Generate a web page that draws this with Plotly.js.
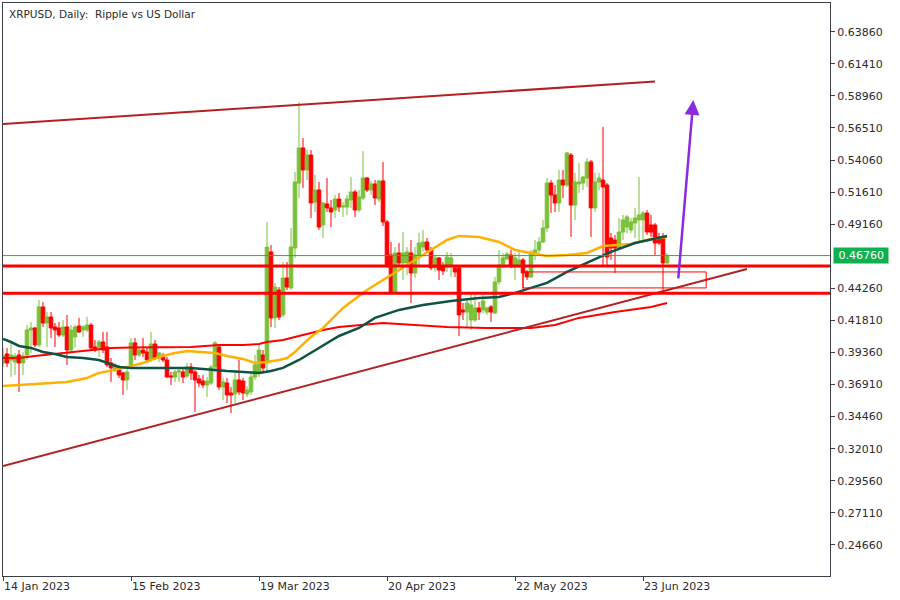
<!DOCTYPE html>
<html><head><meta charset="utf-8">
<script src="https://cdn.plot.ly/plotly-3.0.1.min.js"></script>
<style>html,body{margin:0;padding:0;background:#fff}#chart{width:900px;height:600px}</style>
</head><body><div id="chart"></div><script>
// Daily candles, first date 2023-01-14
const firstDay = [2023, 0, 14];
const open = [0.3856,0.3925,0.3879,0.3863,0.3917,0.3856,0.3917,0.4108,0.4123,0.3994,
0.4284,0.4161,0.4207,0.4131,0.4123,0.4070,0.4131,0.3955,0.4055,0.4138,
0.4108,0.4108,0.4146,0.3978,0.3971,0.4016,0.3978,0.3856,0.3803,0.3818,
0.3780,0.3726,0.3841,0.4009,0.3917,0.3955,0.3940,0.3879,0.4001,0.3894,
0.3902,0.3879,0.3757,0.3749,0.3787,0.3787,0.3757,0.3825,0.3787,0.3734,
0.3718,0.3688,0.3703,0.3825,0.3978,0.3673,0.3703,0.3627,0.3619,0.3726,
0.3718,0.3619,0.3635,0.3749,0.3780,0.3917,0.3856,0.4704,0.4200,0.4413,
0.4223,0.4505,0.4429,0.4734,0.5230,0.5498,0.5330,0.5444,0.5085,0.5177,
0.4910,0.5070,0.5040,0.5024,0.5108,0.5047,0.5047,0.5101,0.5162,0.5024,
0.5116,0.5269,0.5177,0.5223,0.5108,0.5246,0.4933,0.4681,0.4398,0.4696,
0.4620,0.4620,0.4696,0.4543,0.4681,0.4741,0.4780,0.4719,0.4582,0.4658,
0.4597,0.4589,0.4604,0.4582,0.4582,0.4261,0.4245,0.4184,0.4184,0.4276,
0.4261,0.4245,0.4284,0.4238,0.4475,0.4589,0.4650,0.4681,0.4589,0.4597,
0.4643,0.4551,0.4513,0.4681,0.4719,0.4780,0.4887,0.5230,0.5139,0.5078,
0.5253,0.5215,0.5444,0.5062,0.5223,0.5230,0.5269,0.5391,0.5040,0.5238,
0.5253,0.5215,0.4810,0.4795,0.4734,0.4856,0.4894,0.4872,0.4925,0.4948,
0.4948,0.5001,0.4910,0.4910,0.4818,0.4818,0.4620];
const high = [0.3971,0.3971,0.4009,0.3932,0.3955,0.3940,0.4146,0.4169,0.4131,0.4337,
0.4322,0.4245,0.4245,0.4161,0.4169,0.4184,0.4223,0.4146,0.4146,0.4200,
0.4146,0.4207,0.4161,0.4032,0.4032,0.4093,0.4093,0.3894,0.3856,0.3841,
0.3787,0.3825,0.4047,0.4047,0.3971,0.4047,0.3971,0.4093,0.4032,0.3940,
0.3932,0.3902,0.3787,0.3803,0.3818,0.3818,0.3856,0.3856,0.3803,0.3764,
0.3764,0.3749,0.3841,0.4024,0.3986,0.3741,0.3741,0.3673,0.3803,0.3879,
0.3741,0.3680,0.3787,0.3917,0.3994,0.3955,0.4933,0.4757,0.4467,0.4436,
0.4627,0.4627,0.4887,0.5315,0.5849,0.5574,0.5483,0.5483,0.5292,0.5238,
0.5085,0.5269,0.5101,0.5139,0.5154,0.5085,0.5139,0.5276,0.5177,0.5177,
0.5475,0.5276,0.5246,0.5253,0.5253,0.5391,0.4948,0.4780,0.4741,0.4772,
0.4856,0.4741,0.4795,0.4741,0.4849,0.4872,0.4810,0.4741,0.4681,0.4665,
0.4627,0.4704,0.4696,0.4597,0.4589,0.4314,0.4337,0.4391,0.4375,0.4322,
0.4375,0.4284,0.4299,0.4513,0.4719,0.4696,0.4704,0.4719,0.4696,0.4719,
0.4658,0.4566,0.4719,0.4795,0.4818,0.4948,0.5269,0.5253,0.5215,0.5330,
0.5330,0.5467,0.5460,0.5307,0.5383,0.5284,0.5421,0.5406,0.5307,0.5307,
0.5658,0.5230,0.4849,0.4833,0.4963,0.4986,0.4986,0.4963,0.5040,0.5276,
0.5017,0.5024,0.4986,0.4925,0.4849,0.4849,0.4696];
const low = [0.3825,0.3825,0.3749,0.3764,0.3635,0.3764,0.3879,0.3932,0.3978,0.3978,
0.4131,0.3978,0.4047,0.3978,0.4055,0.4055,0.3841,0.3932,0.3971,0.4085,
0.4055,0.4093,0.3955,0.3940,0.3902,0.3932,0.3825,0.3711,0.3787,0.3741,
0.3612,0.3650,0.3825,0.3879,0.3902,0.3902,0.3856,0.3863,0.3879,0.3863,
0.3863,0.3741,0.3688,0.3711,0.3711,0.3703,0.3741,0.3726,0.3482,0.3673,
0.3665,0.3596,0.3688,0.3787,0.3650,0.3573,0.3550,0.3474,0.3550,0.3612,
0.3573,0.3596,0.3612,0.3726,0.3749,0.3787,0.3787,0.4131,0.4123,0.4184,
0.4207,0.4413,0.4413,0.4658,0.5116,0.5192,0.5253,0.4963,0.5009,0.4872,
0.4810,0.5009,0.4894,0.4963,0.5009,0.4971,0.4986,0.5040,0.4971,0.5009,
0.5101,0.5162,0.5139,0.5062,0.5085,0.4902,0.4582,0.4383,0.4383,0.4589,
0.4490,0.4528,0.4314,0.4505,0.4604,0.4704,0.4696,0.4566,0.4551,0.4490,
0.4528,0.4551,0.4513,0.4513,0.4062,0.4184,0.4123,0.4108,0.4169,0.4184,
0.4238,0.4223,0.4169,0.4230,0.4452,0.4582,0.4643,0.4582,0.4490,0.4582,
0.4421,0.4490,0.4505,0.4643,0.4696,0.4772,0.4856,0.5001,0.5009,0.5009,
0.5116,0.5200,0.4818,0.4948,0.5154,0.5177,0.5200,0.4818,0.5009,0.5177,
0.4604,0.4604,0.4643,0.4543,0.4719,0.4795,0.4849,0.4849,0.4810,0.4780,
0.4795,0.4833,0.4818,0.4681,0.4757,0.4391,0.4612];
const close = [0.3909,0.3856,0.3917,0.3909,0.3856,0.3909,0.4108,0.4123,0.3994,0.4284,
0.4161,0.4207,0.4123,0.4108,0.4070,0.4131,0.3955,0.4108,0.4131,0.4093,
0.4131,0.4146,0.3971,0.3955,0.4016,0.3955,0.3841,0.3818,0.3841,0.3764,
0.3726,0.3787,0.4009,0.3917,0.3955,0.3932,0.3879,0.4001,0.3894,0.3932,
0.3879,0.3749,0.3749,0.3787,0.3795,0.3749,0.3825,0.3780,0.3726,0.3703,
0.3688,0.3718,0.3825,0.4009,0.3673,0.3711,0.3612,0.3612,0.3726,0.3635,
0.3627,0.3650,0.3749,0.3841,0.3955,0.3818,0.4741,0.4200,0.4436,0.4207,
0.4505,0.4436,0.4741,0.5238,0.5498,0.5330,0.5444,0.5078,0.5177,0.4894,
0.5078,0.5040,0.5009,0.5108,0.5047,0.5055,0.5108,0.5162,0.5024,0.5124,
0.5269,0.5177,0.5223,0.5116,0.5246,0.4933,0.4604,0.4398,0.4696,0.4620,
0.4696,0.4704,0.4543,0.4681,0.4772,0.4780,0.4719,0.4582,0.4658,0.4566,
0.4559,0.4665,0.4658,0.4551,0.4223,0.4245,0.4314,0.4299,0.4276,0.4245,
0.4330,0.4276,0.4245,0.4475,0.4604,0.4658,0.4688,0.4589,0.4658,0.4643,
0.4543,0.4513,0.4696,0.4719,0.4780,0.4887,0.5230,0.5139,0.5078,0.5253,
0.5215,0.5460,0.5062,0.5238,0.5238,0.5276,0.5391,0.5040,0.5238,0.5269,
0.5200,0.4665,0.4734,0.4734,0.4856,0.4948,0.4971,0.4933,0.4963,0.4986,
0.5001,0.4856,0.4856,0.4772,0.4772,0.4620,0.4676];

// Moving averages
const maOrangeDates = ['2023-01-14','2023-01-23','2023-01-30','2023-02-04','2023-02-07','2023-02-11','2023-02-14','2023-02-18','2023-02-22','2023-02-26','2023-03-01','2023-03-05','2023-03-08','2023-03-11','2023-03-15','2023-03-18','2023-03-21','2023-03-24','2023-03-26','2023-03-28','2023-03-29','2023-04-01','2023-04-04','2023-04-09','2023-04-15','2023-04-19','2023-04-23','2023-04-26','2023-05-01','2023-05-05','2023-05-08','2023-05-13','2023-05-18','2023-05-22','2023-05-26','2023-05-30','2023-06-04','2023-06-09','2023-06-13','2023-06-20','2023-06-25','2023-06-29'];
const maOrange = [0.3680,0.3696,0.3711,0.3741,0.3780,0.3803,0.3825,0.3856,0.3902,0.3932,0.3948,0.3940,0.3932,0.3909,0.3887,0.3856,0.3863,0.3879,0.3894,0.3940,0.3971,0.4055,0.4123,0.4276,0.4413,0.4490,0.4566,0.4620,0.4719,0.4795,0.4826,0.4818,0.4780,0.4719,0.4696,0.4673,0.4681,0.4696,0.4749,0.4765,0.4803,0.4818];
const maGreenDates = ['2023-01-14','2023-01-16','2023-01-18','2023-01-21','2023-01-24','2023-01-27','2023-01-30','2023-02-03','2023-02-07','2023-02-09','2023-02-12','2023-02-15','2023-02-22','2023-03-02','2023-03-11','2023-03-19','2023-03-22','2023-03-25','2023-03-29','2023-04-03','2023-04-08','2023-04-13','2023-04-17','2023-04-23','2023-04-29','2023-05-06','2023-05-13','2023-05-18','2023-05-22','2023-05-26','2023-05-30','2023-06-04','2023-06-09','2023-06-15','2023-06-21','2023-06-29'];
const maGreen = [0.4039,0.4016,0.3986,0.3971,0.3940,0.3925,0.3902,0.3894,0.3879,0.3856,0.3825,0.3818,0.3818,0.3818,0.3795,0.3780,0.3795,0.3818,0.3879,0.3971,0.4062,0.4123,0.4200,0.4261,0.4299,0.4330,0.4352,0.4360,0.4391,0.4429,0.4467,0.4551,0.4620,0.4704,0.4772,0.4826];
const maRedDates = ['2023-01-14','2023-01-18','2023-01-22','2023-01-29','2023-02-02','2023-02-06','2023-02-10','2023-02-15','2023-02-22','2023-03-02','2023-03-09','2023-03-15','2023-03-19','2023-03-21','2023-03-25','2023-03-29','2023-04-04','2023-04-08','2023-04-13','2023-04-19','2023-04-23','2023-04-27','2023-05-05','2023-05-15','2023-05-26','2023-06-01','2023-06-07','2023-06-16','2023-06-25','2023-06-29'];
const maRed = [0.3894,0.3894,0.3909,0.3932,0.3948,0.3963,0.3971,0.3975,0.3978,0.3978,0.3994,0.3994,0.4001,0.4016,0.4032,0.4062,0.4108,0.4131,0.4146,0.4161,0.4154,0.4146,0.4131,0.4123,0.4123,0.4146,0.4200,0.4245,0.4284,0.4314];

// Drawn objects
const channelTopX = ['2023-01-14','2023-06-26'];
const channelTopY = [0.5681, 0.6005];
const supportLineX = ['2023-01-14','2023-07-19'];
const supportLineY = [0.3069, 0.4574];
const levels = [0.4597, 0.4388];
const zoneX = ['2023-05-24','2023-07-08 19:00'];
const zoneY = [0.4429, 0.4551];
const arrowX = ['2023-07-01 19:00','2023-07-05 14:00'];
const arrowY = [0.4490, 0.5864];

// Axis ticks
const dateTicks = ['2023-01-14','2023-02-15','2023-03-19','2023-04-20','2023-05-22','2023-06-23'];
const dateTickText = ['14 Jan 2023','15 Feb 2023','19 Mar 2023','20 Apr 2023','22 May 2023','23 Jun 2023'];
const priceTicks = [0.24660,0.27110,0.29560,0.32010,0.34460,0.36910,0.39360,0.41810,0.44260,0.49160,0.51610,0.54060,0.56510,0.58960,0.61410,0.63860];
const xRange = ['2023-01-14','2023-08-08 18:00'];
const yRange = [0.2229, 0.6605];

const dates = open.map((_, i) => new Date(Date.UTC(firstDay[0], firstDay[1], firstDay[2] + i)).toISOString().slice(0, 10));
const lastClose = close[close.length - 1];

const AX = '#3c3f48';
const FONT = 'DejaVu Sans, Verdana, sans-serif';
const GREEN = '#7cc03a';

const traces = [
  {type:'candlestick', x:dates, open:open, high:high, low:low, close:close,
   whiskerwidth:0,
   increasing:{line:{color:GREEN, width:1}, fillcolor:GREEN},
   decreasing:{line:{color:'#ff0000', width:1}, fillcolor:'#ff0000'},
   hoverinfo:'skip', showlegend:false},
  {type:'scatter', mode:'lines', x:maRedDates, y:maRed, line:{color:'#ff0000', width:2}, hoverinfo:'skip', showlegend:false},
  {type:'scatter', mode:'lines', x:maOrangeDates, y:maOrange, line:{color:'#ffb000', width:2.5}, hoverinfo:'skip', showlegend:false},
  {type:'scatter', mode:'lines', x:maGreenDates, y:maGreen, line:{color:'#0d5346', width:2.5}, hoverinfo:'skip', showlegend:false},
  {type:'scatter', mode:'lines', x:channelTopX, y:channelTopY, line:{color:'#b22222', width:2}, hoverinfo:'skip', showlegend:false},
  {type:'scatter', mode:'lines', x:supportLineX, y:supportLineY, line:{color:'#b22222', width:2}, hoverinfo:'skip', showlegend:false}
];

const shapes = [
  {type:'line', xref:'paper', x0:0, x1:1, yref:'y', y0:lastClose, y1:lastClose, line:{color:'#1fb04a', width:1}, layer:'above'},
  ...levels.map(v => ({type:'line', xref:'paper', x0:0, x1:1, yref:'y', y0:v, y1:v, line:{color:'#ff0000', width:3}, layer:'above'})),
  {type:'rect', xref:'x', yref:'y', x0:zoneX[0], x1:zoneX[1], y0:zoneY[0], y1:zoneY[1], line:{color:'#ff0000', width:1}, fillcolor:'rgba(0,0,0,0)', layer:'above'}
];

const annotations = [
  {xref:'paper', yref:'paper', x:0, y:1, xanchor:'left', yanchor:'top', xshift:4, yshift:-3,
   text:'XRPUSD, Daily:\u00a0 Ripple vs US Dollar', showarrow:false, font:{family:FONT, size:10.5, color:'#2b2b2b'}},
  {xref:'paper', yref:'y', x:1, y:lastClose, xanchor:'left', yanchor:'middle', xshift:3,
   text:'\u00a0' + lastClose.toFixed(5) + '\u00a0', showarrow:false, bgcolor:'#0fb04f', borderpad:1,
   font:{family:FONT, size:11, color:'#ffffff'}},
  {xref:'x', yref:'y', axref:'x', ayref:'y', x:arrowX[1], y:arrowY[1], ax:arrowX[0], ay:arrowY[0],
   text:'', showarrow:true, arrowhead:2, arrowsize:1.2, arrowwidth:2.5, arrowcolor:'#8a2be2'}
];

const layout = {
  width:900, height:600,
  margin:{l:3, r:70, t:3, b:24, pad:0},
  paper_bgcolor:'#ffffff', plot_bgcolor:'#ffffff',
  showlegend:false,
  boxgap:0.1, boxgroupgap:0,
  font:{family:FONT, size:11, color:'#333333'},
  xaxis:{type:'date', range:xRange, rangeslider:{visible:false}, showgrid:false, zeroline:false,
    showline:true, mirror:true, linecolor:AX, linewidth:1,
    ticks:'outside', ticklen:4, tickcolor:AX, tickwidth:1,
    tickvals:dateTicks, ticktext:dateTickText, ticklabelposition:'outside right',
    tickfont:{family:FONT, size:11, color:'#2b2b2b'}, fixedrange:true},
  yaxis:{side:'right', range:yRange, showgrid:false, zeroline:false,
    showline:true, mirror:true, linecolor:AX, linewidth:1,
    ticks:'outside', ticklen:4, tickcolor:AX, tickwidth:1,
    tickvals:priceTicks, tickformat:'.5f',
    tickfont:{family:FONT, size:11, color:'#2b2b2b'}, fixedrange:true},
  shapes:shapes, annotations:annotations
};

Plotly.newPlot('chart', traces, layout, {staticPlot:true, displayModeBar:false});
</script></body></html>
